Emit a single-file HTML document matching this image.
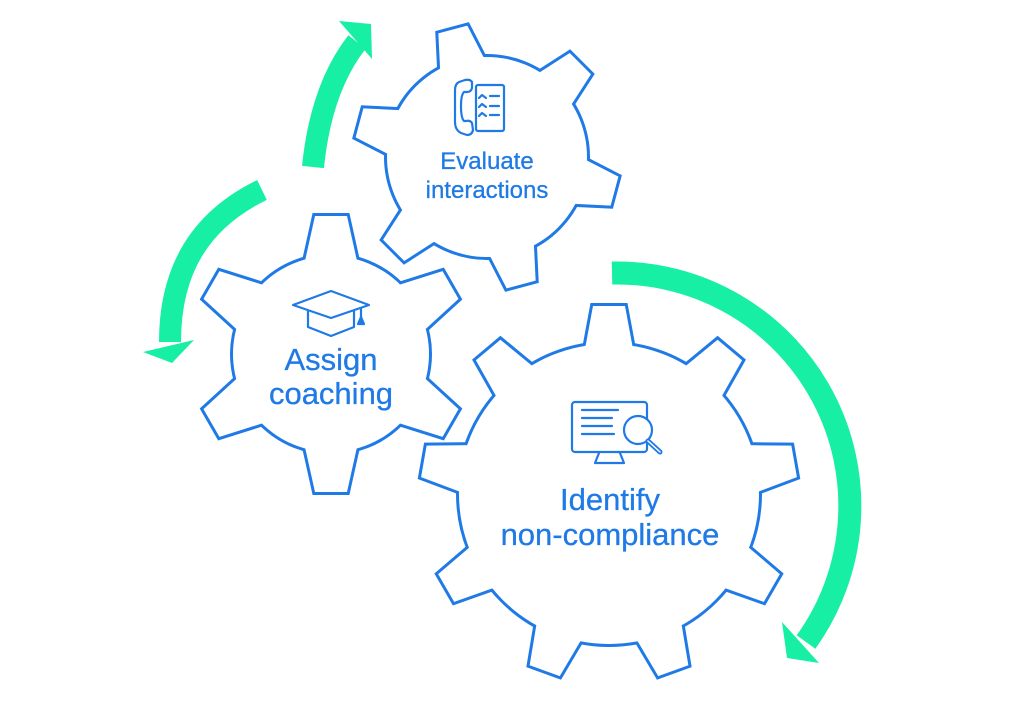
<!DOCTYPE html>
<html><head><meta charset="utf-8"><style>
html,body{margin:0;padding:0;background:#fff;}
svg{display:block}
text{font-family:"Liberation Sans",sans-serif;fill:#1f7ae6;text-anchor:middle;stroke:#1f7ae6;stroke-width:0.3}
</style></head><body>
<svg width="1032" height="716" viewBox="0 0 1032 716" xmlns="http://www.w3.org/2000/svg">
<defs>
  <g id="bigg">
    <circle cx="0" cy="0" r="150"/>
    <g id="bt"><polygon points="-24,-145 24,-145 16,-188 -16,-188"/></g>
    <use href="#bt" transform="rotate(40)"/><use href="#bt" transform="rotate(80)"/>
    <use href="#bt" transform="rotate(120)"/><use href="#bt" transform="rotate(160)"/>
    <use href="#bt" transform="rotate(200)"/><use href="#bt" transform="rotate(240)"/>
    <use href="#bt" transform="rotate(280)"/><use href="#bt" transform="rotate(320)"/>
  </g>
  <g id="topg">
    <circle cx="0" cy="0" r="100"/>
    <g id="tt" transform="rotate(-15)"><polygon points="-23,-95 23,-95 15,-132 -15,-132"/></g>
    <use href="#tt" transform="rotate(60)"/><use href="#tt" transform="rotate(120)"/>
    <use href="#tt" transform="rotate(180)"/><use href="#tt" transform="rotate(240)"/>
    <use href="#tt" transform="rotate(300)"/>
  </g>
  <g id="leftg">
    <circle cx="0" cy="0" r="98"/>
    <g id="lt"><polygon points="-26,-93 26,-93 16,-138 -16,-138"/></g>
    <use href="#lt" transform="rotate(60)"/><use href="#lt" transform="rotate(120)"/>
    <use href="#lt" transform="rotate(180)"/><use href="#lt" transform="rotate(240)"/>
    <use href="#lt" transform="rotate(300)"/>
  </g>
</defs>

<g fill="#1f7ae6" stroke="#1f7ae6" stroke-width="6" stroke-linejoin="miter">
  <use href="#bigg" transform="translate(609,494)"/>
  <use href="#topg" transform="translate(487,157)"/>
  <use href="#leftg" transform="translate(331,354)"/>
</g>
<g fill="#fff" stroke="none">
  <use href="#bigg" transform="translate(609,494)"/>
  <use href="#topg" transform="translate(487,157)"/>
  <use href="#leftg" transform="translate(331,354)"/>
</g>

<g fill="none" stroke="#17efa5" stroke-width="22">
  <path d="M313,167 Q321,88 357,42"/>
  <path d="M262,190 C200,220 170,270 170,342"/>
  <path d="M612,273 A233,233 0 0 1 806,642" stroke-width="23"/>
</g>
<g fill="#17efa5">
  <polygon points="339,21 371,24 372,59"/>
  <polygon points="143,352 194,340 172,363"/>
  <polygon points="782,622 787,658 819,663"/>
</g>

<g fill="none" stroke="#1f7ae6" stroke-width="2.2" stroke-linejoin="round" stroke-linecap="round">
  <rect x="476" y="85" width="28" height="46" rx="2"/>
  <path d="M465,80 L459,82 Q455,84 455,90 L455,122 Q455,130 461,133 L467,135 Q472,135 473,130 L472,123 Q470,120 466,121 L464,121 Q461,118 461,106 Q461,95 464,92 L467,92 Q471,92 472,88 L472,82 Q470,79 465,80 Z"/>
  <path d="M479,98 L482,95 L486,98 M490,96 L499,96 M479,107 L482,104 L486,107 M490,106 L499,106 M479,116 L482,113 L486,116 M490,115 L499,115"/>
  <polygon points="293,305 331,291 369,305 331,318"/>
  <path d="M308,311 L308,327 L331,336 L354,327 L354,311"/>
  <path d="M361,308 L361,318"/>
  <polygon points="358,324 361,317 364,324" fill="#1f7ae6"/>
  <rect x="572" y="402" width="75" height="50" rx="3"/>
  <path d="M599,453 L595,463 L624,463 L620,453"/>
  <path d="M582,410 L618,410 M582,418 L612,418 M582,426 L612,426 M582,434 L614,434"/>
  <circle cx="638" cy="430" r="14" fill="#fff"/>
  <path d="M648,441 L660,452" stroke-width="5"/>
  <path d="M648,441 L660,452" stroke="#fff" stroke-width="1.5"/>
</g>

<text x="487" y="169" font-size="24">Evaluate</text>
<text x="487" y="198" font-size="24">interactions</text>
<text x="331" y="370" font-size="31">Assign</text>
<text x="331" y="404" font-size="31">coaching</text>
<text x="610" y="510" font-size="31">Identify</text>
<text x="610" y="545" font-size="31">non-compliance</text>
</svg>
</body></html>
